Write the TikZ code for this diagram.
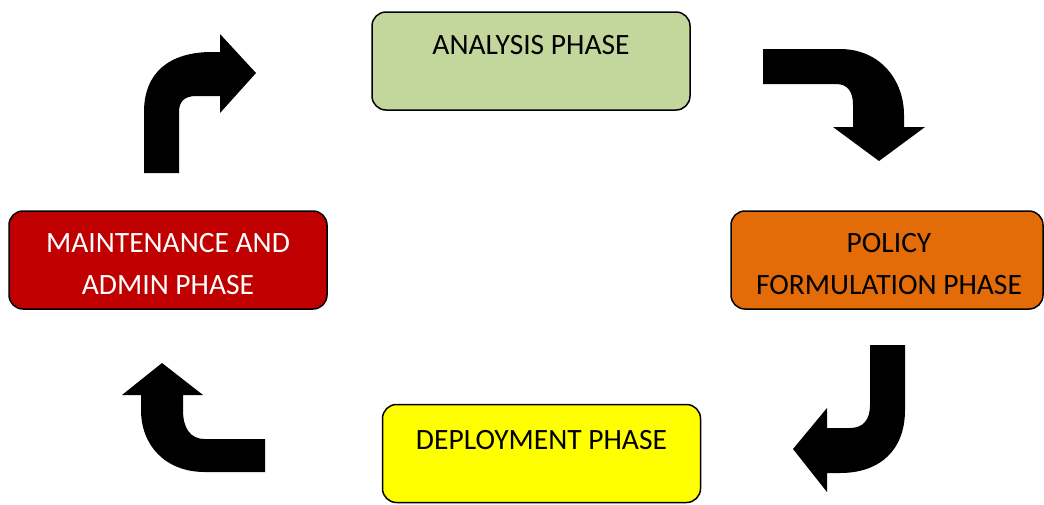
\documentclass[tikz,border=0pt]{standalone}
\usepackage{fontspec}
\setmainfont{Carlito}
\begin{document}
\begin{tikzpicture}[x=1pt,y=-1pt,
  phase/.style={draw=black, line width=1.5pt, rounded corners=14pt, minimum width=318pt, minimum height=98pt, inner sep=0pt},
  phasetext/.style={font=\fontsize{29.5}{42}\selectfont, align=center, inner sep=0pt},
  bent/.style={fill=black, draw=none}]
\useasboundingbox (0,0) rectangle (1044,504);
\definecolor{analysisgreen}{HTML}{C3D69B}
\definecolor{policyorange}{HTML}{E36C09}
\definecolor{deployyellow}{HTML}{FFFF00}
\definecolor{maintred}{HTML}{C00000}

% phase boxes
\node[phase, fill=analysisgreen] (analysis) at (531,61) {};
\node[phase, fill=policyorange, minimum width=312pt] (policy) at (887,260) {};
\node[phase, fill=deployyellow] (deploy) at (541.5,453.5) {};
\node[phase, fill=maintred] (maint) at (168,260) {};

% phase labels
\node[phasetext] (analysislbl) at (531,45) {ANALYSIS PHASE};
\node[phasetext] (policylbl) at (889,264) {POLICY\\FORMULATION PHASE};
\node[phasetext] (deploylbl) at (541.5,440) {DEPLOYMENT PHASE};
\node[phasetext, text=white] (maintlbl) at (168,264) {MAINTENANCE AND\\ADMIN PHASE};

% bent block arrows
\fill[bent] (144,173) -- (144,112) .. controls (144,72) and (170,52) .. (212,52)
  -- (220,52) -- (220,34) -- (256,73) -- (220,113) -- (220,96) -- (196,96)
  .. controls (184,96) and (179,102) .. (179,112) -- (179,173) -- cycle;
\fill[bent] (763,49) -- (840,49) .. controls (880,49) and (904,80) .. (904,115)
  -- (904,127) -- (925,127) -- (879,161) -- (833,127) -- (853,127) -- (853,105)
  .. controls (853,92) and (848,84) .. (836,84) -- (763,84) -- cycle;
\fill[bent] (870,345) -- (905,345) -- (905,410) .. controls (905,450) and (880,473) .. (840,473)
  -- (827,473) -- (827,492) -- (793,449) -- (827,408) -- (827,428) -- (850,428)
  .. controls (863,428) and (870,420) .. (870,405) -- cycle;
\fill[bent] (265,439) -- (265,472) -- (205,472) .. controls (165,472) and (141,445) .. (141,410)
  -- (141,395) -- (122,395) -- (162,363) -- (203,395) -- (183,395) -- (183,410)
  .. controls (183,428) and (190,439) .. (205,439) -- cycle;
\end{tikzpicture}
\end{document}
